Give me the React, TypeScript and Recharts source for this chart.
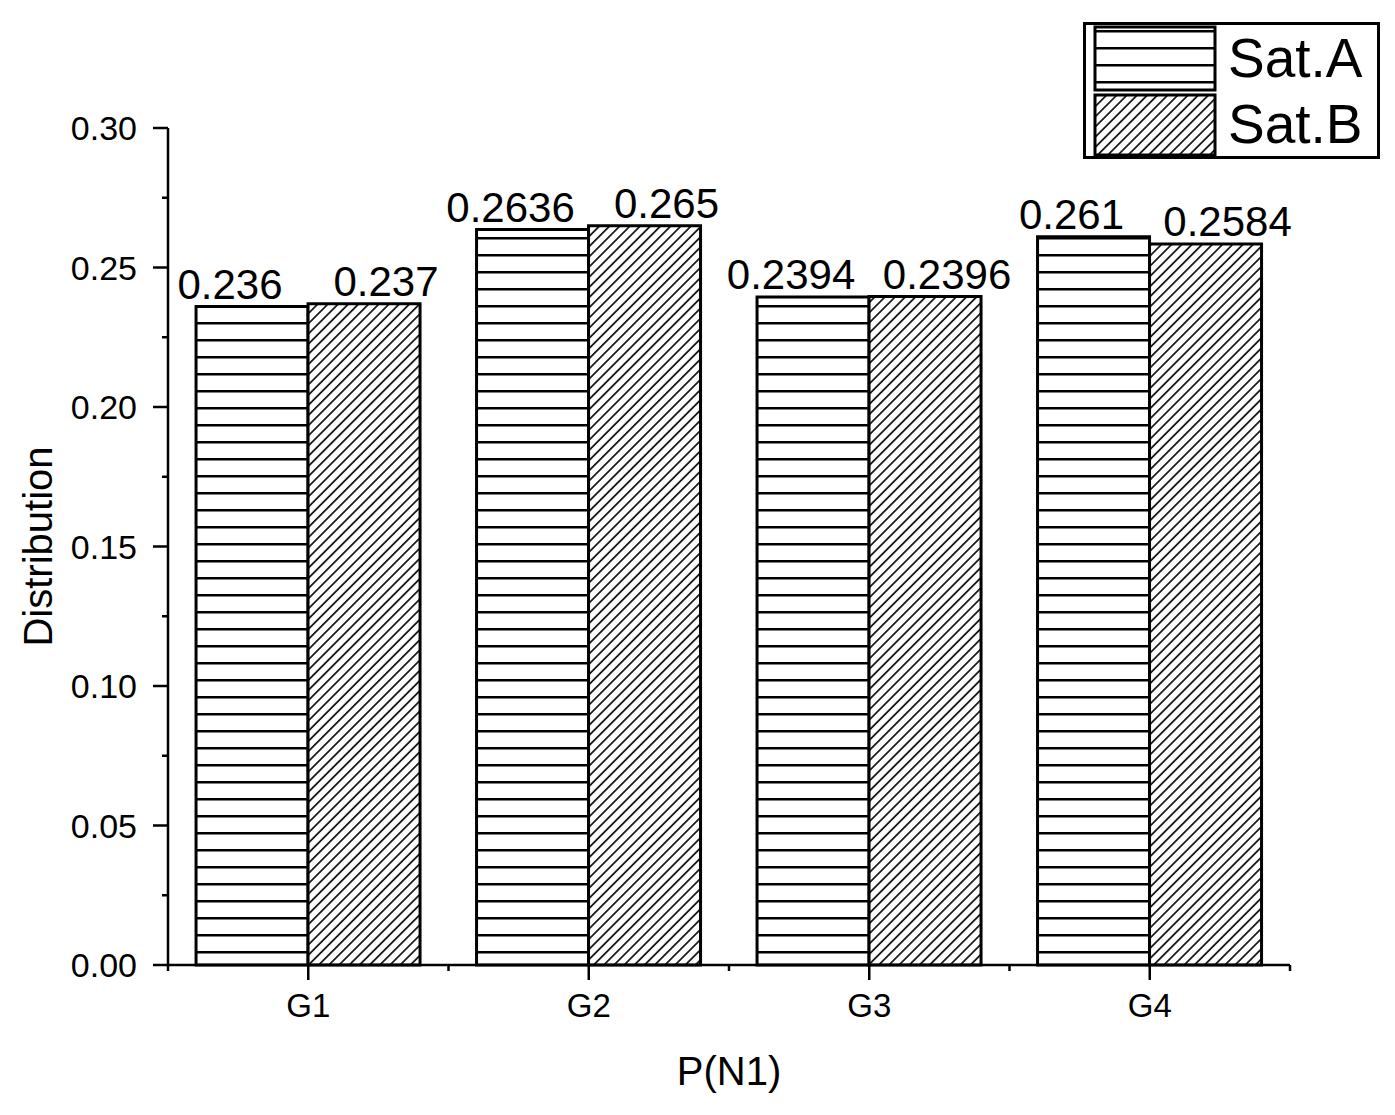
import { Bar, BarChart, LabelList, XAxis, YAxis } from 'recharts';

const categories = ['G1', 'G2', 'G3', 'G4'];
const satA = [0.236, 0.2636, 0.2394, 0.261];
const satB = [0.237, 0.265, 0.2396, 0.2584];
// major ticks every 0.05, minor ticks in between
const yTicks = [0, 0.025, 0.05, 0.075, 0.1, 0.125, 0.15, 0.175, 0.2, 0.225, 0.25, 0.275, 0.3];
const yMajorLabels = ['0.00', '0.05', '0.10', '0.15', '0.20', '0.25', '0.30'];

const data = categories.map((name, i) => ({ name, a: satA[i], b: satB[i] }));

const FONT = '"Liberation Sans", Arial, sans-serif';

function YTick(props: any) {
  const { x, y, payload } = props;
  const step = Math.round(payload.value * 1000);
  const major = step % 50 === 0;
  return (
    <g>
      <line x1={x} x2={x - (major ? 15 : 6)} y1={y} y2={y} stroke="#000" strokeWidth={2.5} />
      {major && (
        <text x={x - 31} y={y + 12} textAnchor="end" fontSize={34} fontFamily={FONT} fill="#000">
          {yMajorLabels[step / 50]}
        </text>
      )}
    </g>
  );
}

function XTick(props: any) {
  const { x, y, payload, index, width, visibleTicksCount } = props;
  const band = width / visibleTicksCount;
  return (
    <g>
      <line x1={x} x2={x} y1={y} y2={y + 15} stroke="#000" strokeWidth={2.5} />
      <line x1={x - band / 2} x2={x - band / 2} y1={y} y2={y + 6} stroke="#000" strokeWidth={2.5} />
      {index === visibleTicksCount - 1 && (
        <line x1={x + band / 2} x2={x + band / 2} y1={y} y2={y + 6} stroke="#000" strokeWidth={2.5} />
      )}
      <text x={x} y={y + 52} textAnchor="middle" fontSize={33} fontFamily={FONT} fill="#000">
        {payload.value}
      </text>
    </g>
  );
}

const barLabel = (dx: number) => (props: any) => (
  <text
    x={props.x + props.width / 2 + dx}
    y={props.y - 8}
    textAnchor="middle"
    fontSize={42}
    fontFamily={FONT}
    fill="#000"
  >
    {String(props.value)}
  </text>
);

function Patterns() {
  return (
    <svg width={0} height={0} style={{ position: 'absolute' }}>
      <defs>
        <pattern id="hlines" width={20} height={17} patternUnits="userSpaceOnUse">
          <rect width={20} height={17} fill="#fff" />
          <rect x={0} y={8} width={20} height={2.5} fill="#000" />
        </pattern>
        <pattern id="diag" width={7.2} height={7.2} patternUnits="userSpaceOnUse" patternTransform="rotate(45)">
          <rect width={7.2} height={7.2} fill="#fff" />
          <line x1={3.6} x2={3.6} y1={0} y2={7.2} stroke="#000" strokeWidth={1.6} />
        </pattern>
      </defs>
    </svg>
  );
}

function LegendBox() {
  return (
    <svg width={297} height={137} style={{ position: 'absolute', left: 1075, top: 14 }}>
      <rect x={1.5} y={1.5} width={294} height={134} fill="#fff" stroke="#000" strokeWidth={3} />
      <rect x={12} y={5} width={120} height={63} fill="url(#hlines)" stroke="#000" strokeWidth={3} />
      <rect x={12} y={73} width={120} height={60} fill="url(#diag)" stroke="#000" strokeWidth={3} />
      <text x={145} y={55} fontSize={55} fontFamily={FONT} fill="#000">Sat.A</text>
      <text x={145} y={121} fontSize={55} fontFamily={FONT} fill="#000">Sat.B</text>
    </svg>
  );
}

export default function App() {
  return (
    <div style={{ position: 'relative', width: 1387, height: 1107, background: '#fff' }}>
      <Patterns />
      <BarChart
        width={1387}
        height={1107}
        data={data}
        margin={{ top: 120, right: 105, bottom: 30, left: 0 }}
        barCategoryGap="10%"
        barGap={0}
      >
        <XAxis
          dataKey="name"
          height={120}
          tick={<XTick />}
          tickLine={false}
          tickSize={0}
          tickMargin={0}
          axisLine={{ stroke: '#000', strokeWidth: 2.5 }}
          label={{
            value: 'P(N1)',
            position: 'insideBottom',
            offset: 0,
            fontSize: 40,
            fontFamily: FONT,
            fill: '#000',
          }}
        />
        <YAxis
          width={160}
          domain={[0, 0.3]}
          ticks={yTicks}
          interval={0}
          tick={<YTick />}
          tickLine={false}
          tickSize={0}
          tickMargin={0}
          axisLine={{ stroke: '#000', strokeWidth: 2.5 }}
          label={{
            value: 'Distribution',
            angle: -90,
            position: 'insideLeft',
            offset: 30,
            fontSize: 40,
            fontFamily: FONT,
            fill: '#000',
            style: { textAnchor: 'middle' },
          }}
        />
        <Bar dataKey="a" name="Sat.A" fill="url(#hlines)" stroke="#000" strokeWidth={3} isAnimationActive={false}>
          <LabelList dataKey="a" content={barLabel(-22)} />
        </Bar>
        <Bar dataKey="b" name="Sat.B" fill="url(#diag)" stroke="#000" strokeWidth={3} isAnimationActive={false}>
          <LabelList dataKey="b" content={barLabel(22)} />
        </Bar>
      </BarChart>
      <LegendBox />
    </div>
  );
}
